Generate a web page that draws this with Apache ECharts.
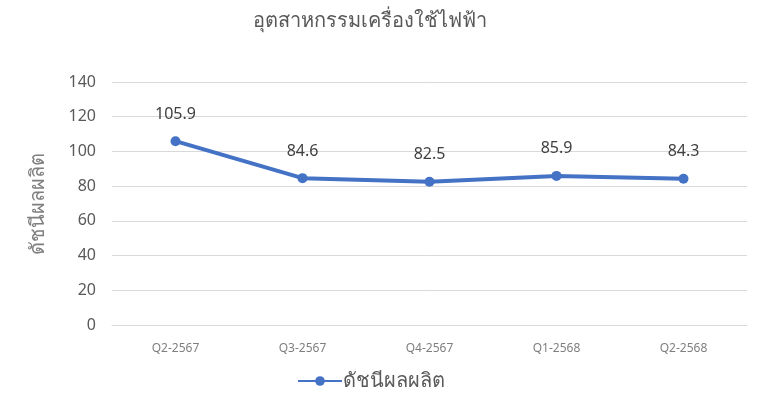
<!DOCTYPE html>
<html>
<head>
<meta charset="utf-8">
<script src="https://cdn.jsdelivr.net/npm/echarts@6/dist/echarts.min.js"></script>
<style>
html,body{margin:0;padding:0;background:#fff;}
#c{width:772px;height:414px;}
</style>
</head>
<body>
<div id="c"></div>
<script>
const titleText = 'อุตสาหกรรมเครื่องใช้ไฟฟ้า';
const seriesName = 'ดัชนีผลผลิต';
const categories = ['Q2-2567', 'Q3-2567', 'Q4-2567', 'Q1-2568', 'Q2-2568'];
const values = [105.9, 84.6, 82.5, 85.9, 84.3];
const yTicks = { min: 0, max: 140, interval: 20 };

const FONT = '"Noto Sans", "DejaVu Sans", sans-serif';
const chart = echarts.init(document.getElementById('c'), null, { renderer: 'canvas' });
chart.setOption({
  animation: false,
  backgroundColor: '#fff',
  title: {
    text: titleText,
    left: 248,
    top: 6,
    textStyle: { fontFamily: FONT, fontSize: 20, fontWeight: 'normal', color: '#595959' }
  },
  legend: {
    bottom: 18,
    left: 292,
    itemWidth: 44,
    itemHeight: 12,
    itemGap: 4,
    data: [seriesName],
    textStyle: { fontFamily: FONT, fontSize: 20, color: '#595959', padding: [0, 0, 0, -4] }
  },
  grid: { left: 112, right: 25, top: 82, bottom: 89, containLabel: false },
  xAxis: {
    type: 'category',
    data: categories,
    boundaryGap: true,
    axisLine: { show: true, lineStyle: { color: '#d9d9d9', width: 1 } },
    axisTick: { show: false },
    axisLabel: { color: '#7f7f7f', fontSize: 12, fontFamily: FONT, margin: 18 }
  },
  yAxis: {
    type: 'value',
    min: yTicks.min,
    max: yTicks.max,
    interval: yTicks.interval,
    name: seriesName,
    nameLocation: 'middle',
    nameGap: 64,
    nameRotate: 90,
    nameTextStyle: { fontFamily: FONT, fontSize: 20, color: '#7f7f7f' },
    axisLine: { show: false },
    axisTick: { show: false },
    axisLabel: { color: '#595959', fontSize: 16, fontFamily: FONT, margin: 16 },
    splitLine: { lineStyle: { color: '#d9d9d9', width: 1 } }
  },
  series: [{
    name: seriesName,
    type: 'line',
    data: values,
    symbol: 'circle',
    symbolSize: 10,
    lineStyle: { color: '#4472C4', width: 4 },
    itemStyle: { color: '#4472C4' },
    label: {
      show: true,
      position: 'top',
      distance: 14,
      fontFamily: FONT,
      fontSize: 16,
      color: '#404040',
      formatter: p => p.value.toFixed(1)
    }
  }]
});
</script>
</body>
</html>
